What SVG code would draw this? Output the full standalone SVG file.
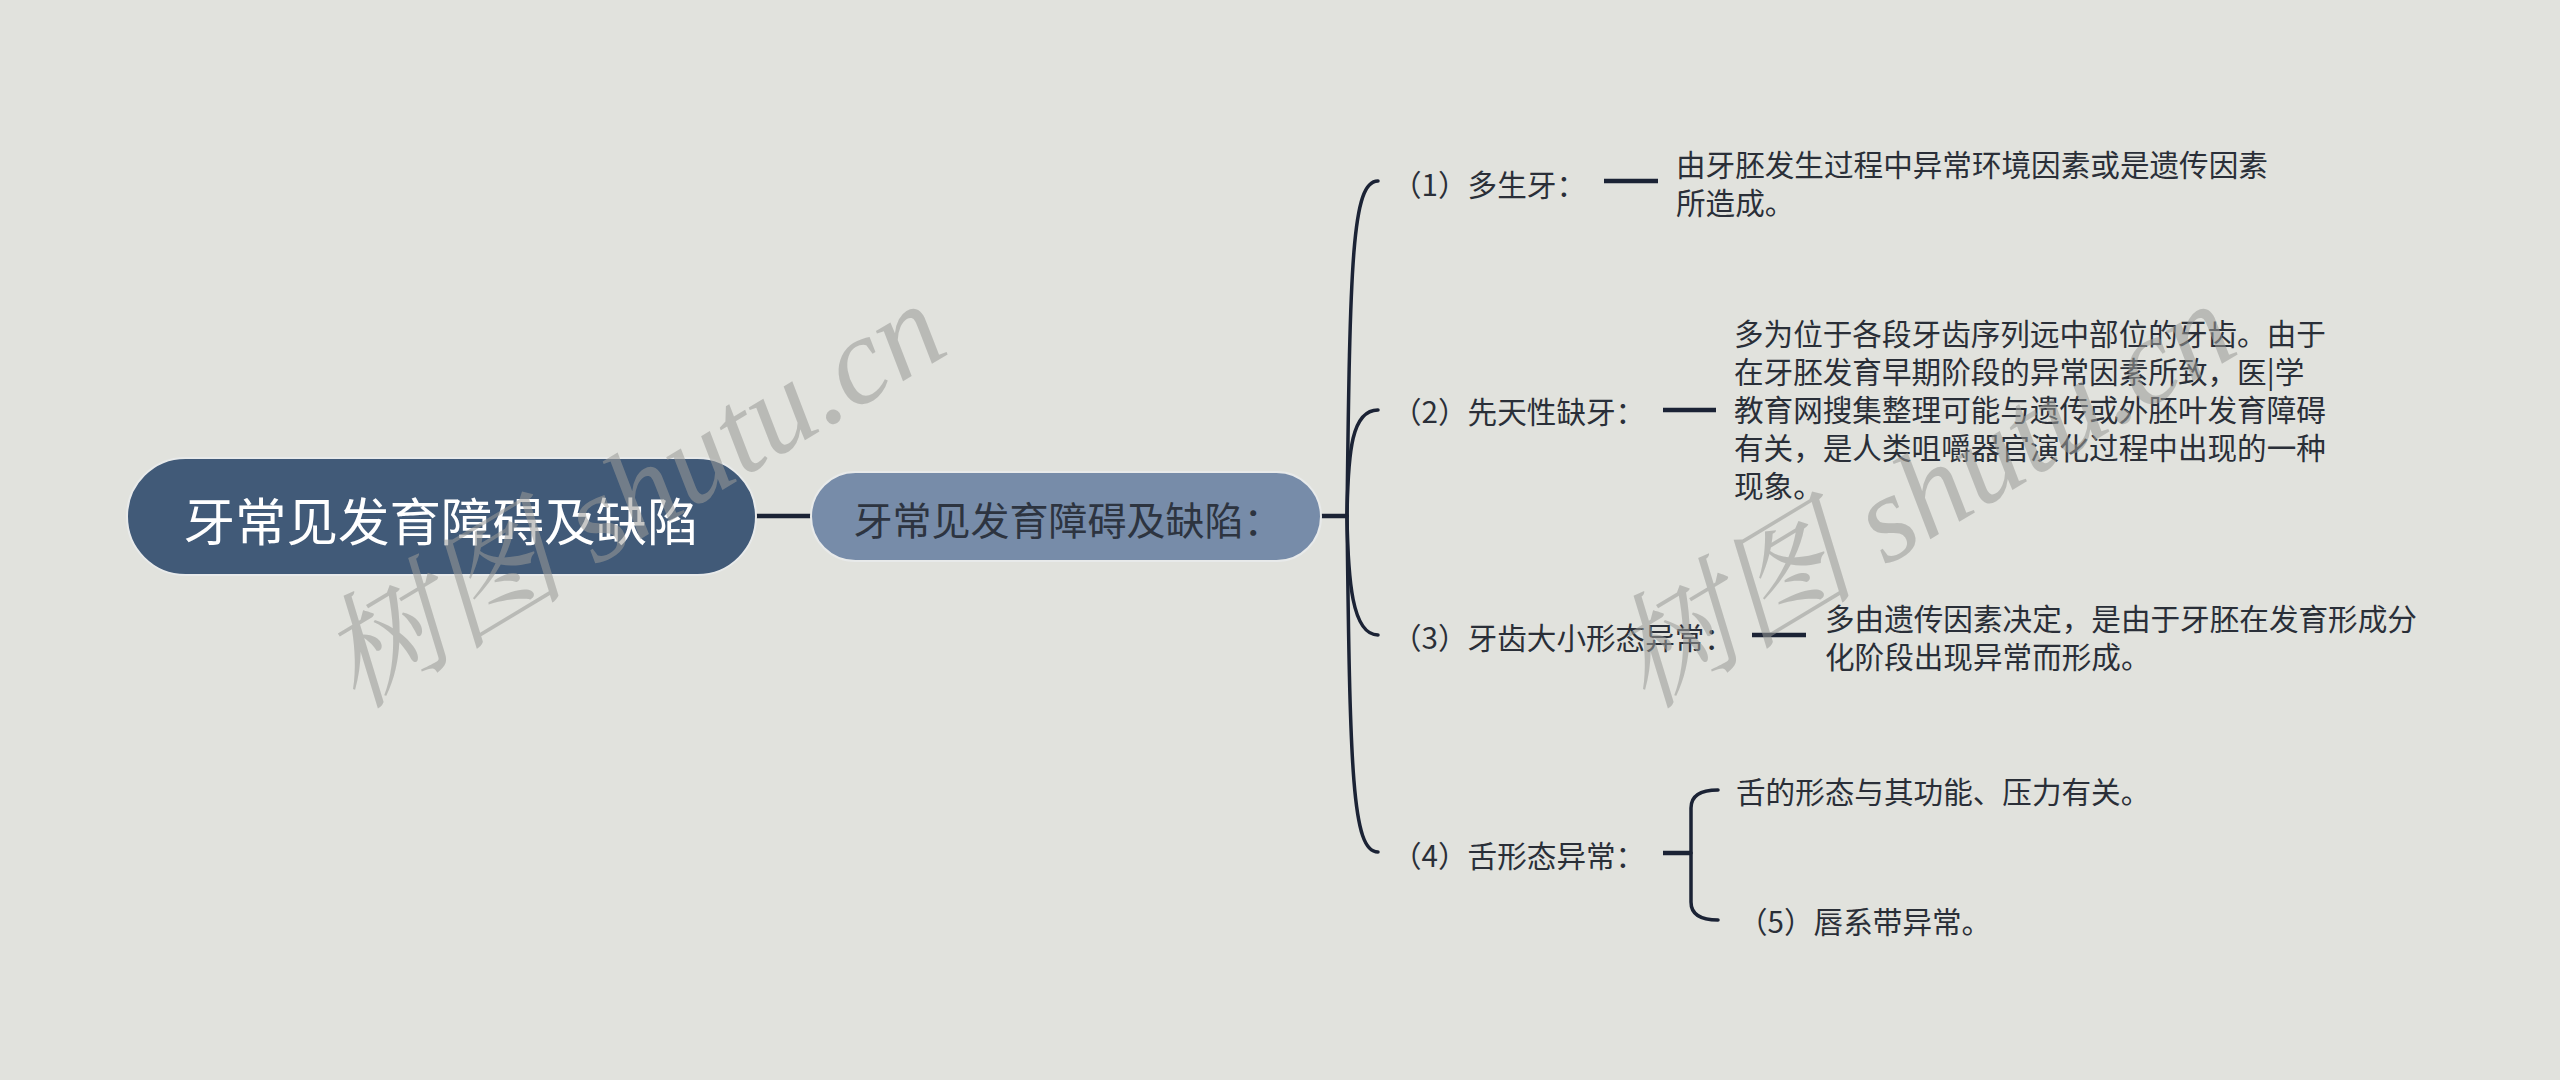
<svg xmlns="http://www.w3.org/2000/svg" width="2560" height="1080" viewBox="0 0 2560 1080">
<style>
.lbl{font-family:"Noto Sans CJK SC","Noto Sans",sans-serif;font-size:29.6px;fill:#2a2f38;dominant-baseline:central}
.wm{font-family:"Liberation Serif","Noto Serif CJK SC","Noto Sans CJK SC",serif;font-style:italic;font-size:124px;fill:#9a9b98;opacity:0.55}
.ln{fill:none;stroke:#1b2335;stroke-width:3.5;stroke-linecap:round}
.dash{fill:none;stroke:#1b2335;stroke-width:4.5}
</style>
<rect width="2560" height="1080" fill="#e1e2dd"/>
<g id="connectors">
<path class="dash" d="M756,516 H811"/>
<path class="dash" d="M1321,516 H1347"/>
<path class="ln" d="M1347,516 C1350,260 1352,181 1378,181"/>
<path class="ln" d="M1347,516 C1348,450 1352,410 1378,410"/>
<path class="ln" d="M1347,516 C1348,580 1352,635 1378,635"/>
<path class="ln" d="M1347,516 C1350,772 1352,852 1378,852"/>
<path class="dash" d="M1604,181 H1658"/>
<path class="dash" d="M1663,410 H1716"/>
<path class="dash" d="M1752,635 H1806"/>
<path class="dash" d="M1663,853 H1691"/>
<path class="ln" d="M1691,853 V808 Q1691,790 1718,790"/>
<path class="ln" d="M1691,853 V902 Q1691,920 1718,920"/>
</g>
<g id="root">
<rect x="127" y="458" width="629" height="117" rx="58.5" fill="#415a78" stroke="#e8eaea" stroke-width="2"/>
<text x="441" y="518" text-anchor="middle" dominant-baseline="central" font-family="Noto Sans CJK SC,sans-serif" font-size="51.5" fill="#ffffff">牙常见发育障碍及缺陷</text>
</g>
<g id="sub">
<rect x="811" y="472" width="510" height="89" rx="44.5" fill="#778ca9" stroke="#e8eaea" stroke-width="2"/>
<text x="1068" y="518" text-anchor="middle" dominant-baseline="central" font-family="Noto Sans CJK SC,sans-serif" font-size="39" fill="#2d3440">牙常见发育障碍及缺陷：</text>
</g>
<g id="n1">
<text class="lbl" x="1392" y="183">（1）多生牙：</text>
</g>
<g id="n1d">
<text class="lbl" x="1676" y="163">由牙胚发生过程中异常环境因素或是遗传因素</text>
<text class="lbl" x="1676" y="201">所造成。</text>
</g>
<g id="n2">
<text class="lbl" x="1392" y="410">（2）先天性缺牙：</text>
</g>
<g id="n2d">
<text class="lbl" x="1734" y="332">多为位于各段牙齿序列远中部位的牙齿。由于</text>
<text class="lbl" x="1734" y="370">在牙胚发育早期阶段的异常因素所致，医|学</text>
<text class="lbl" x="1734" y="408">教育网搜集整理可能与遗传或外胚叶发育障碍</text>
<text class="lbl" x="1734" y="446">有关，是人类咀嚼器官演化过程中出现的一种</text>
<text class="lbl" x="1734" y="484">现象。</text>
</g>
<g id="n3">
<text class="lbl" x="1392" y="636">（3）牙齿大小形态异常：</text>
</g>
<g id="n3d">
<text class="lbl" x="1825" y="617">多由遗传因素决定，是由于牙胚在发育形成分</text>
<text class="lbl" x="1825" y="655">化阶段出现异常而形成。</text>
</g>
<g id="n4">
<text class="lbl" x="1392" y="854">（4）舌形态异常：</text>
</g>
<g id="n4a">
<text class="lbl" x="1736" y="790">舌的形态与其功能、压力有关。</text>
</g>
<g id="n5">
<text class="lbl" x="1738" y="920">（5）唇系带异常。</text>
</g>
<g id="watermarks">
<text class="wm" transform="translate(356,710) rotate(-31)">树图 shutu.cn</text>
<text class="wm" transform="translate(1646,710) rotate(-31)">树图 shutu.cn</text>
</g>
</svg>
